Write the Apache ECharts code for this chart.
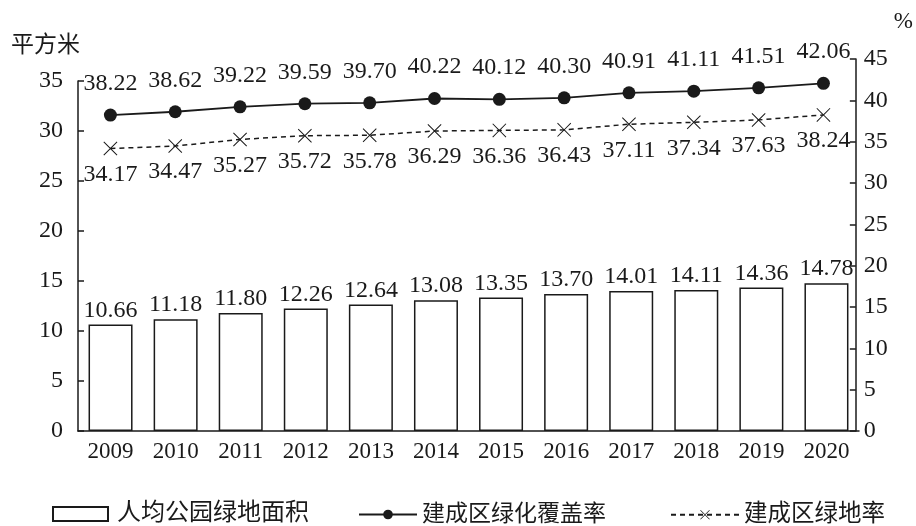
<!DOCTYPE html>
<html>
<head>
<meta charset="utf-8">
<script src="https://cdn.jsdelivr.net/npm/echarts@6/dist/echarts.min.js"></script>
<style>
html,body{margin:0;padding:0;background:#fff;}
#c{width:916px;height:526px;}
</style>
</head>
<body>
<div id="c"></div>
<script>
const years = ['2009','2010','2011','2012','2013','2014','2015','2016','2017','2018','2019','2020'];
const parkArea = [10.66, 11.18, 11.80, 12.26, 12.64, 13.08, 13.35, 13.70, 14.01, 14.11, 14.36, 14.78];
const coverageRate = [38.22, 38.62, 39.22, 39.59, 39.70, 40.22, 40.12, 40.30, 40.91, 41.11, 41.51, 42.06];
const greenRate = [34.17, 34.47, 35.27, 35.72, 35.78, 36.29, 36.36, 36.43, 37.11, 37.34, 37.63, 38.24];
const seriesNames = ['人均公园绿地面积', '建成区绿化覆盖率', '建成区绿地率'];
const leftUnit = '平方米';
const rightUnit = '%';

const FONT = "'Liberation Serif', 'Times New Roman', 'Noto Sans CJK SC', serif";
const INK = '#1a1a1a';
const xMark = 'path://M1,0 L10,9 L19,0 L20,1 L11,10 L20,19 L19,20 L10,11 L1,20 L0,19 L9,10 L0,1 Z';
const fmt2 = p => Number(p.value).toFixed(2);

const chart = echarts.init(document.getElementById('c'), null, {renderer: 'canvas'});
chart.setOption({
  backgroundColor: '#fff',
  animation: false,
  textStyle: {fontFamily: FONT, color: INK},
  grid: [
    {left: 78, right: 57, top: 81, bottom: 95},
    {left: 78, right: 57, top: 59, bottom: 95}
  ],
  xAxis: [
    {
      type: 'category', gridIndex: 0, data: years,
      axisLine: {lineStyle: {color: INK, width: 1.5}},
      axisTick: {show: false},
      axisLabel: {color: INK, fontFamily: FONT, fontSize: 23, margin: 9}
    },
    {
      type: 'category', gridIndex: 1, data: years, show: false
    }
  ],
  yAxis: [
    {
      type: 'value', gridIndex: 0, min: 0, max: 35, interval: 5, position: 'left',
      name: leftUnit, nameLocation: 'end', nameGap: 24,
      nameTextStyle: {color: INK, fontFamily: FONT, fontSize: 23, align: 'right', padding: [0, -2, 0, 0]},
      axisLine: {show: true, lineStyle: {color: INK, width: 1.5}},
      axisTick: {show: true, inside: true, length: 6, lineStyle: {color: INK, width: 1.5}},
      axisLabel: {color: INK, fontFamily: FONT, fontSize: 24, margin: 15},
      splitLine: {show: false}
    },
    {
      type: 'value', gridIndex: 1, min: 0, max: 45, interval: 5, position: 'right',
      name: rightUnit, nameLocation: 'end', nameGap: 26,
      nameTextStyle: {color: INK, fontFamily: FONT, fontSize: 23, align: 'left', padding: [0, 0, 0, 38]},
      axisLine: {show: true, lineStyle: {color: INK, width: 1.5}},
      axisTick: {show: true, inside: true, length: 6, lineStyle: {color: INK, width: 1.5}},
      axisLabel: {color: INK, fontFamily: FONT, fontSize: 24, margin: 8},
      splitLine: {show: false}
    }
  ],
  legend: [
    {
      data: [{name: seriesNames[0], icon: 'rect'}], left: 47, top: 497, itemWidth: 55, itemHeight: 14,
      textStyle: {color: INK, fontFamily: FONT, fontSize: 24, padding: [0, 0, 0, 4]}
    },
    {
      data: [seriesNames[1]], left: 353, top: 498, itemWidth: 58, itemHeight: 12,
      textStyle: {color: INK, fontFamily: FONT, fontSize: 23, padding: [0, 0, 0, 0]}
    },
    {
      data: [seriesNames[2]], left: 665, top: 498, itemWidth: 68, itemHeight: 12,
      textStyle: {color: INK, fontFamily: FONT, fontSize: 23.5, padding: [0, 0, 0, 0]}
    }
  ],
  series: [
    {
      name: seriesNames[0], type: 'bar', xAxisIndex: 0, yAxisIndex: 0,
      data: parkArea, barWidth: 44,
      itemStyle: {color: '#fff', borderColor: INK, borderWidth: 1.5},
      label: {show: true, position: 'top', distance: 2, color: INK, fontFamily: FONT, fontSize: 24, formatter: fmt2}
    },
    {
      name: seriesNames[1], type: 'line', xAxisIndex: 1, yAxisIndex: 1,
      data: coverageRate, symbol: 'circle', symbolSize: 13,
      lineStyle: {color: INK, width: 1.8},
      itemStyle: {color: INK},
      label: {show: true, position: 'top', distance: 13, color: INK, fontFamily: FONT, fontSize: 24, formatter: fmt2}
    },
    {
      name: seriesNames[2], type: 'line', xAxisIndex: 1, yAxisIndex: 1,
      data: greenRate, symbol: xMark, symbolSize: 14,
      lineStyle: {color: INK, width: 1.5, type: [5, 4]},
      itemStyle: {color: INK},
      label: {show: true, position: 'bottom', distance: 7, color: INK, fontFamily: FONT, fontSize: 24, formatter: fmt2}
    }
  ]
});
</script>
</body>
</html>
